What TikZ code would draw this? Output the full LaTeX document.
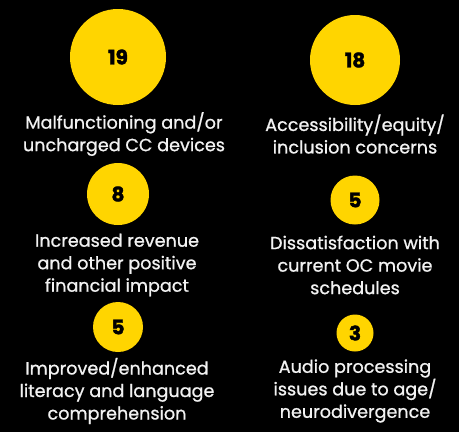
\documentclass[tikz,border=0pt]{standalone}
\usepackage{fontspec}
\setmainfont{Poppins}
\newfontfamily\reasonfont{Poppins}[BoldFont=*,BoldFeatures={FakeBold=0.9}]
\newfontfamily\countfont{Poppins}[BoldFeatures={FakeBold=1.8}]
\definecolor{gold}{HTML}{FFD500}
\definecolor{offwhite}{HTML}{F2F2F2}
\tikzset{
  count/.style={circle,fill=gold,inner sep=0pt,font=\countfont\fontsize{20}{20}\selectfont\bfseries},
  reason/.style={text=offwhite,align=center,inner sep=0pt,font=\reasonfont\fontsize{17.6}{22.5}\selectfont\bfseries}
}
\begin{document}
\begin{tikzpicture}[x=1pt,y=-1pt]
      \useasboundingbox (0,0) rectangle (466,432);
      \fill[black] (0,0) rectangle (459,432);

      % circles sized by number of mentions
      \node[count,minimum size=96pt] (c19) at (118,57) {19};
      \node[count,minimum size=90pt] (c18) at (355,60) {18};
      \node[count,minimum size=62pt] (c8) at (118,194) {8};
      \node[count,minimum size=49pt] (c5a) at (355,200) {5};
      \node[count,minimum size=50pt] (c5b) at (118,327) {5};
      \node[count,minimum size=37pt] (c3) at (355,333) {3};

      \node[reason] (t19) at (124,134) {Malfunctioning and/or\\uncharged CC devices};
      \node[reason] (t18) at (355,134) {Accessibility/equity/\\inclusion concerns};
      \node[reason] (t8) at (117,265) {Increased revenue\\and other positive\\financial impact};
      \node[reason] (t5a) at (355,265) {Dissatisfaction with\\current OC movie\\schedules};
      \node[reason] (t5b) at (117,391) {Improved/enhanced\\literacy and language\\comprehension};
      \node[reason] (t3) at (355,391) {Audio processing\\issues due to age/\\neurodivergence};
    \end{tikzpicture}
\end{document}
